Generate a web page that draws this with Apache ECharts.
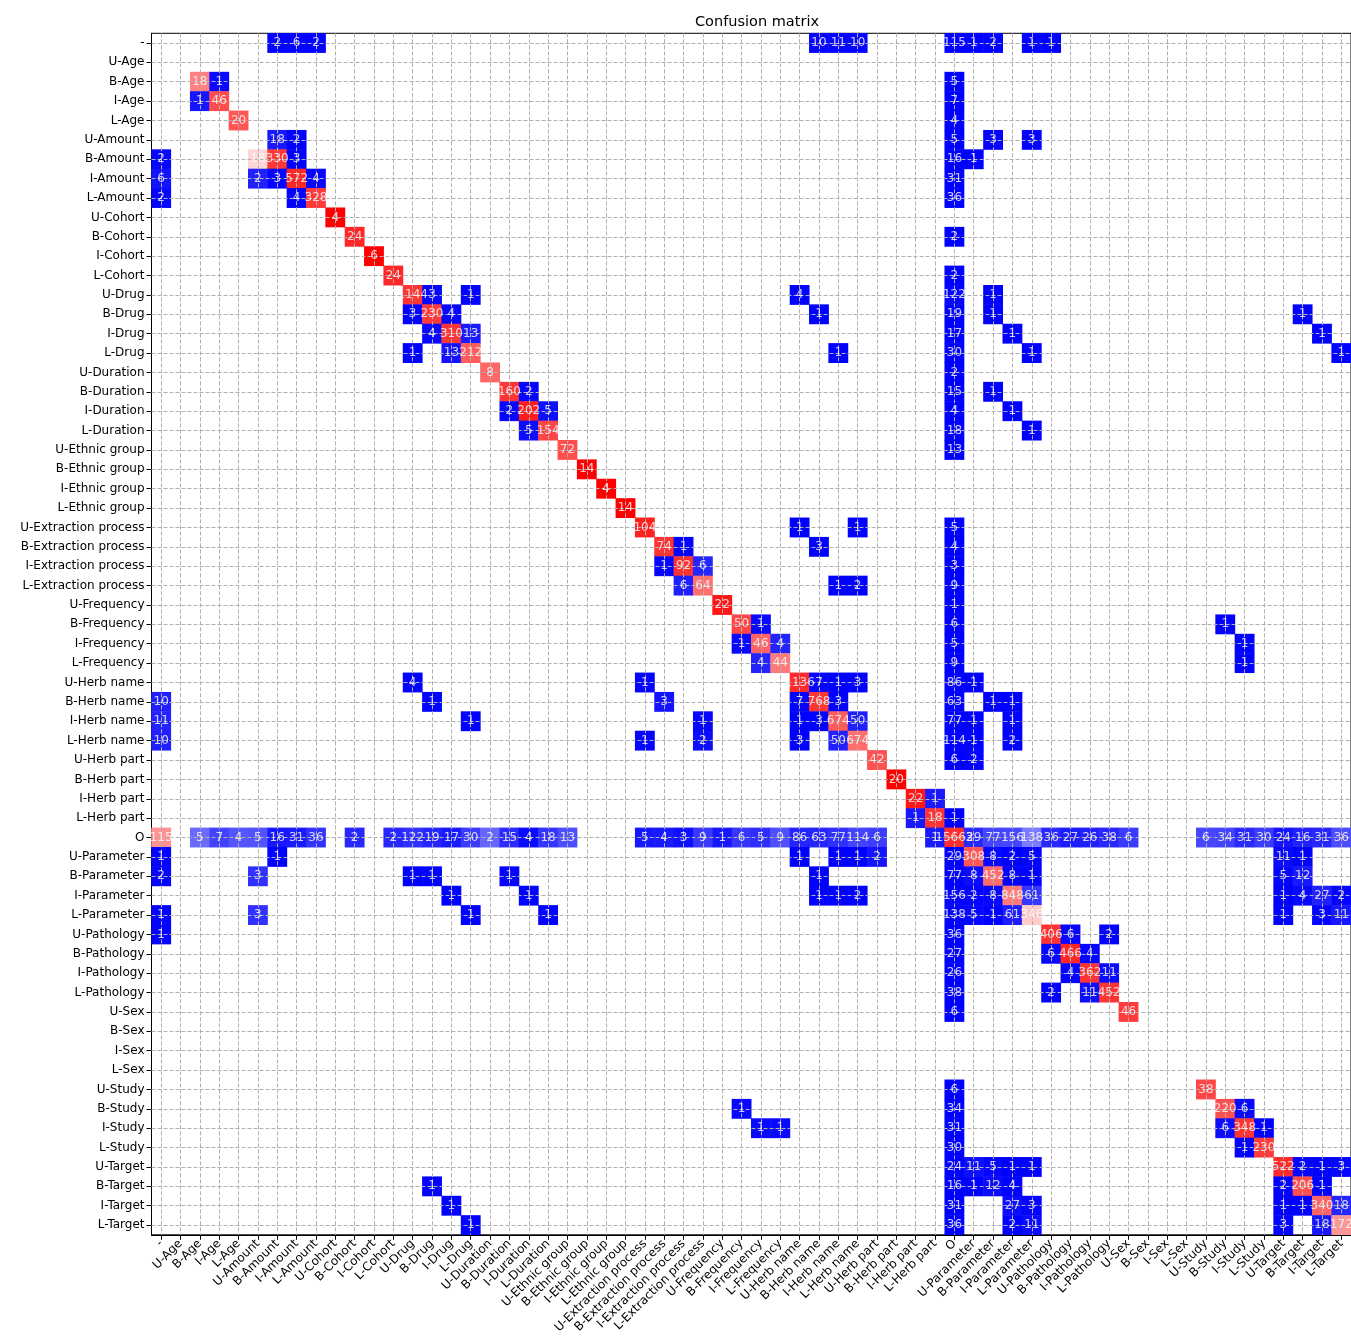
<!DOCTYPE html>
<html>
<head>
<meta charset="utf-8">
<script src="https://cdn.jsdelivr.net/npm/echarts@6/dist/echarts.min.js"></script>
<style>
html,body{margin:0;padding:0;background:#fff;}
#chart{width:1351px;height:1344px;}
</style>
</head>
<body>
<div id="chart"></div>
<script>
const labels = ['-',
 'U-Age','B-Age','I-Age','L-Age',
 'U-Amount','B-Amount','I-Amount','L-Amount',
 'U-Cohort','B-Cohort','I-Cohort','L-Cohort',
 'U-Drug','B-Drug','I-Drug','L-Drug',
 'U-Duration','B-Duration','I-Duration','L-Duration',
 'U-Ethnic group','B-Ethnic group','I-Ethnic group','L-Ethnic group',
 'U-Extraction process','B-Extraction process','I-Extraction process','L-Extraction process',
 'U-Frequency','B-Frequency','I-Frequency','L-Frequency',
 'U-Herb name','B-Herb name','I-Herb name','L-Herb name',
 'U-Herb part','B-Herb part','I-Herb part','L-Herb part',
 'O',
 'U-Parameter','B-Parameter','I-Parameter','L-Parameter',
 'U-Pathology','B-Pathology','I-Pathology','L-Pathology',
 'U-Sex','B-Sex','I-Sex','L-Sex',
 'U-Study','B-Study','I-Study','L-Study',
 'U-Target','B-Target','I-Target','L-Target'];

// [row (true), column (predicted), count]
const cells = [
 [0,6,2],[0,7,6],[0,8,2],[0,34,10],[0,35,11],[0,36,10],[0,41,115],[0,42,1],[0,43,2],[0,45,1],[0,46,1],
 [2,2,18],[2,3,1],[2,41,5],
 [3,2,1],[3,3,46],[3,41,7],
 [4,4,20],[4,41,4],
 [5,6,18],[5,7,2],[5,41,5],[5,43,3],[5,45,3],
 [6,0,2],[6,5,18],[6,6,330],[6,7,3],[6,41,16],[6,42,1],
 [7,0,6],[7,5,2],[7,6,3],[7,7,572],[7,8,4],[7,41,31],
 [8,0,2],[8,7,4],[8,8,328],[8,41,36],
 [9,9,4],
 [10,10,24],[10,41,2],
 [11,11,6],
 [12,12,24],[12,41,2],
 [13,13,1144],[13,14,3],[13,16,1],[13,33,4],[13,41,122],[13,43,1],
 [14,13,3],[14,14,230],[14,15,4],[14,34,1],[14,41,19],[14,43,1],[14,59,1],
 [15,14,4],[15,15,310],[15,16,13],[15,41,17],[15,44,1],[15,60,1],
 [16,13,1],[16,15,13],[16,16,212],[16,35,1],[16,41,30],[16,45,1],[16,61,1],
 [17,17,8],[17,41,2],
 [18,18,160],[18,19,2],[18,41,15],[18,43,1],
 [19,18,2],[19,19,202],[19,20,5],[19,41,4],[19,44,1],
 [20,19,5],[20,20,154],[20,41,18],[20,45,1],
 [21,21,72],[21,41,13],
 [22,22,14],
 [23,23,4],
 [24,24,14],
 [25,25,104],[25,33,1],[25,36,1],[25,41,5],
 [26,26,74],[26,27,1],[26,34,3],[26,41,4],
 [27,26,1],[27,27,92],[27,28,6],[27,41,3],
 [28,27,6],[28,28,64],[28,35,1],[28,36,2],[28,41,9],
 [29,29,22],[29,41,1],
 [30,30,50],[30,31,1],[30,41,6],[30,55,1],
 [31,30,1],[31,31,46],[31,32,4],[31,41,5],[31,56,1],
 [32,31,4],[32,32,44],[32,41,9],[32,56,1],
 [33,13,4],[33,25,1],[33,33,1136],[33,34,7],[33,35,1],[33,36,3],[33,41,86],[33,42,1],
 [34,0,10],[34,14,1],[34,26,3],[34,33,7],[34,34,768],[34,35,3],[34,41,63],[34,43,1],[34,44,1],
 [35,0,11],[35,16,1],[35,28,1],[35,33,1],[35,34,3],[35,35,674],[35,36,50],[35,41,77],[35,42,1],[35,44,1],
 [36,0,10],[36,25,1],[36,28,2],[36,33,3],[36,35,50],[36,36,674],[36,41,114],[36,42,1],[36,44,2],
 [37,37,42],[37,41,6],[37,42,2],
 [38,38,20],
 [39,39,22],[39,40,1],
 [40,39,1],[40,40,18],[40,41,1],
 [41,0,115],[41,2,5],[41,3,7],[41,4,4],[41,5,5],[41,6,16],[41,7,31],[41,8,36],[41,10,2],[41,12,2],
 [41,13,122],[41,14,19],[41,15,17],[41,16,30],[41,17,2],[41,18,15],[41,19,4],[41,20,18],[41,21,13],
 [41,25,5],[41,26,4],[41,27,3],[41,28,9],[41,29,1],[41,30,6],[41,31,5],[41,32,9],
 [41,33,86],[41,34,63],[41,35,77],[41,36,114],[41,37,6],[41,40,1],[41,41,15663],
 [41,42,29],[41,43,77],[41,44,156],[41,45,138],[41,46,36],[41,47,27],[41,48,26],[41,49,38],[41,50,6],
 [41,54,6],[41,55,34],[41,56,31],[41,57,30],[41,58,24],[41,59,16],[41,60,31],[41,61,36],
 [42,0,1],[42,6,1],[42,33,1],[42,35,1],[42,36,1],[42,37,2],[42,41,29],[42,42,308],[42,43,8],[42,44,2],[42,45,5],[42,58,11],[42,59,1],
 [43,0,2],[43,5,3],[43,13,1],[43,14,1],[43,18,1],[43,34,1],[43,41,77],[43,42,8],[43,43,452],[43,44,8],[43,45,1],[43,58,5],[43,59,12],
 [44,15,1],[44,19,1],[44,34,1],[44,35,1],[44,36,2],[44,41,156],[44,42,2],[44,43,8],[44,44,848],[44,45,61],[44,58,1],[44,59,4],[44,60,27],[44,61,2],
 [45,0,1],[45,5,3],[45,16,1],[45,20,1],[45,41,138],[45,42,5],[45,43,1],[45,44,61],[45,45,346],[45,58,1],[45,60,3],[45,61,11],
 [46,0,1],[46,41,36],[46,46,406],[46,47,6],[46,49,2],
 [47,41,27],[47,46,6],[47,47,466],[47,48,4],
 [48,41,26],[48,47,4],[48,48,362],[48,49,11],
 [49,41,38],[49,46,2],[49,48,11],[49,49,452],
 [50,41,6],[50,50,46],
 [54,41,6],[54,54,38],
 [55,30,1],[55,41,34],[55,55,220],[55,56,6],
 [56,31,1],[56,32,1],[56,41,31],[56,55,6],[56,56,348],[56,57,1],
 [57,41,30],[57,56,1],[57,57,230],
 [58,41,24],[58,42,11],[58,43,5],[58,44,1],[58,45,1],[58,58,522],[58,59,2],[58,60,1],[58,61,3],
 [59,14,1],[59,41,16],[59,42,1],[59,43,12],[59,44,4],[59,58,2],[59,59,206],[59,60,1],
 [60,15,1],[60,41,31],[60,44,27],[60,45,3],[60,58,1],[60,59,1],[60,60,340],[60,61,18],
 [61,16,1],[61,41,36],[61,44,2],[61,45,11],[61,58,3],[61,60,18],[61,61,172]
];

// column-normalised share drives the colour (bwr colormap)
const colSum = labels.map(() => 0);
cells.forEach(([r, c, v]) => { colSum[c] += v; });
const heatData = cells.map(([r, c, v]) => [c, r, v, v / colSum[c]]);
const textData = cells.map(([r, c, v]) => [c, r, v]);

const gridLines = labels.map(l => ({xAxis: l})).concat(labels.map(l => ({yAxis: l})));

const font = 'DejaVu Sans';
const chart = echarts.init(document.getElementById('chart'), null, {renderer: 'canvas'});
chart.setOption({
  animation: false,
  backgroundColor: '#fff',
  title: {
    text: 'Confusion matrix',
    left: 752, top: 10, textAlign: 'center',
    textStyle: {fontFamily: font, fontSize: 14.5, fontWeight: 'normal', color: '#000'}
  },
  grid: {
    left: 151.5, top: 33.3, width: 1201, height: 1201.5,
    show: true, borderColor: '#000', borderWidth: 1, backgroundColor: 'transparent'
  },
  xAxis: {
    type: 'category', data: labels, boundaryGap: true,
    axisLine: {show: true, lineStyle: {color: '#000'}},
    axisTick: {show: true, alignWithLabel: true, length: 5, lineStyle: {color: '#000'}},
    axisLabel: {interval: 0, rotate: 45, margin: 7, fontFamily: font, fontSize: 12, color: '#000'},
    splitLine: {show: false}
  },
  yAxis: {
    type: 'category', data: labels, inverse: true, boundaryGap: true,
    axisLine: {show: true, lineStyle: {color: '#000'}},
    axisTick: {show: true, alignWithLabel: true, length: 5, lineStyle: {color: '#000'}},
    axisLabel: {interval: 0, margin: 7, fontFamily: font, fontSize: 12, color: '#000'},
    splitLine: {show: false}
  },
  visualMap: {
    show: false, type: 'continuous', dimension: 3, min: 0, max: 1, seriesIndex: 0,
    inRange: {color: ['#0000ff', '#ffffff', '#ff0000']}
  },
  series: [{
    type: 'heatmap',
    data: heatData,
    label: {show: false},
    itemStyle: {borderWidth: 0},
    emphasis: {disabled: true},
    markLine: {
      silent: true, symbol: ['none', 'none'], label: {show: false},
      lineStyle: {color: '#b0b0b0', type: [4, 2], width: 1},
      emphasis: {disabled: true},
      animation: false,
      data: gridLines
    }
  }, {
    type: 'scatter',
    z: 10,
    silent: true,
    data: textData,
    symbolSize: 1,
    itemStyle: {color: 'rgba(0,0,0,0)'},
    label: {
      show: true, position: 'inside', color: '#fff', fontFamily: font, fontSize: 12,
      formatter: p => String(p.value[2])
    },
    emphasis: {disabled: true}
  }]
});
</script>
</body>
</html>
